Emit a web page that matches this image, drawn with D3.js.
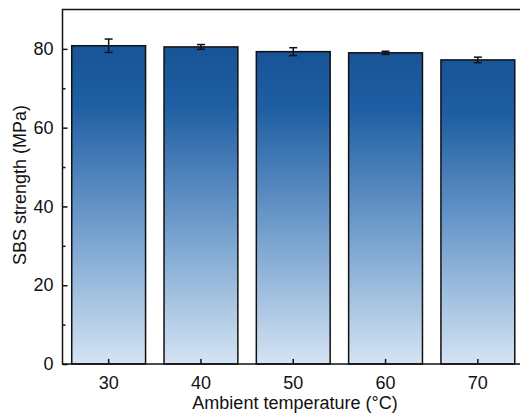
<!DOCTYPE html>
<html>
<head>
<meta charset="utf-8">
<script src="https://cdn.jsdelivr.net/npm/d3@7"></script>
<style>
  body { margin: 0; background: white; }
  text { font-family: "Liberation Sans", Arial, sans-serif; fill: #111; }
</style>
</head>
<body>
<div class="mainVis"></div>
<script>
var temperatures = ["30", "40", "50", "60", "70"]
var strengths = [80.8, 80.5, 79.3, 79.0, 77.2]
var errors = [1.7, 0.6, 1.0, 0.4, 0.7]
var yTicks = [0, 20, 40, 60, 80]
var yMinorTicks = [10, 30, 50, 70]

var width = 520, height = 414
var margin = { left: 62.5, right: -4, top: 9.5, bottom: 50 }
var plotW = width - margin.left - margin.right
var plotH = height - margin.top - margin.bottom

var svg = d3.select(".mainVis")
    .append("svg")
    .attr("width", width)
    .attr("height", height)

var grad = svg.append("defs").append("linearGradient")
    .attr("id", "barFill")
    .attr("x1", 0).attr("y1", 0)
    .attr("x2", 0).attr("y2", 1)
grad.append("stop").attr("offset", "0%").attr("stop-color", "#185497")
grad.append("stop").attr("offset", "18%").attr("stop-color", "#1e5ea2")
grad.append("stop").attr("offset", "55%").attr("stop-color", "#6d9acb")
grad.append("stop").attr("offset", "100%").attr("stop-color", "#d4e4f3")

var g = svg.append("g")
    .attr("transform", "translate(" + margin.left + "," + margin.top + ")")

var x = d3.scaleBand()
    .domain(temperatures)
    .range([0, plotW])
    .paddingInner(0.2)
    .paddingOuter(0.1)

var y = d3.scaleLinear()
    .domain([0, 90])
    .range([plotH, 0])

// bars
g.selectAll(".bar")
    .data(strengths)
    .enter()
    .append("rect")
    .attr("class", "bar")
    .attr("x", function(d, i) { return x(temperatures[i]) })
    .attr("y", function(d) { return y(d) })
    .attr("width", x.bandwidth())
    .attr("height", function(d) { return y(0) - y(d) })
    .attr("fill", "url(#barFill)")
    .attr("stroke", "#111")
    .attr("stroke-width", 1.5)

// error bars
var eb = g.selectAll(".err")
    .data(strengths)
    .enter()
    .append("g")
    .attr("class", "err")
    .attr("transform", function(d, i) { return "translate(" + (x(temperatures[i]) + x.bandwidth() / 2) + ",0)" })
    .attr("stroke", "#111")
    .attr("stroke-width", 1.5)

eb.append("line")
    .attr("y1", function(d, i) { return y(d - errors[i]) })
    .attr("y2", function(d, i) { return y(d + errors[i]) })
eb.append("line")
    .attr("x1", -4).attr("x2", 4)
    .attr("y1", function(d, i) { return y(d + errors[i]) })
    .attr("y2", function(d, i) { return y(d + errors[i]) })
eb.append("line")
    .attr("x1", -4).attr("x2", 4)
    .attr("y1", function(d, i) { return y(d - errors[i]) })
    .attr("y2", function(d, i) { return y(d - errors[i]) })

// frame
g.append("rect")
    .attr("x", 0).attr("y", 0)
    .attr("width", plotW).attr("height", plotH)
    .attr("fill", "none")
    .attr("stroke", "#111")
    .attr("stroke-width", 1.5)

// y axis, ticks inward
var yAxis = g.append("g")
    .call(d3.axisLeft(y).tickValues(yTicks).tickSize(-5).tickPadding(9))
yAxis.select(".domain").remove()
yAxis.selectAll("line").attr("stroke", "#111").attr("stroke-width", 1.5)
yAxis.selectAll("text").style("font-size", "18px").attr("fill", "#111")

var yMinor = g.append("g")
    .call(d3.axisLeft(y).tickValues(yMinorTicks).tickSize(-3).tickFormat(""))
yMinor.select(".domain").remove()
yMinor.selectAll("line").attr("stroke", "#111").attr("stroke-width", 1.5)

// x axis, ticks inward
var xAxis = g.append("g")
    .attr("transform", "translate(0," + plotH + ")")
    .call(d3.axisBottom(x).tickSize(-5).tickPadding(12))
xAxis.select(".domain").remove()
xAxis.selectAll("line").attr("stroke", "#111").attr("stroke-width", 1.5)
xAxis.selectAll("text").style("font-size", "18px").attr("fill", "#111")

// axis titles
svg.append("text")
    .attr("x", 295)
    .attr("y", 409)
    .attr("text-anchor", "middle")
    .style("font-size", "18px")
    .text("Ambient temperature (°C)")

svg.append("text")
    .attr("transform", "translate(26,185) rotate(-90)")
    .attr("text-anchor", "middle")
    .style("font-size", "18px")
    .text("SBS strength (MPa)")
</script>
</body>
</html>
